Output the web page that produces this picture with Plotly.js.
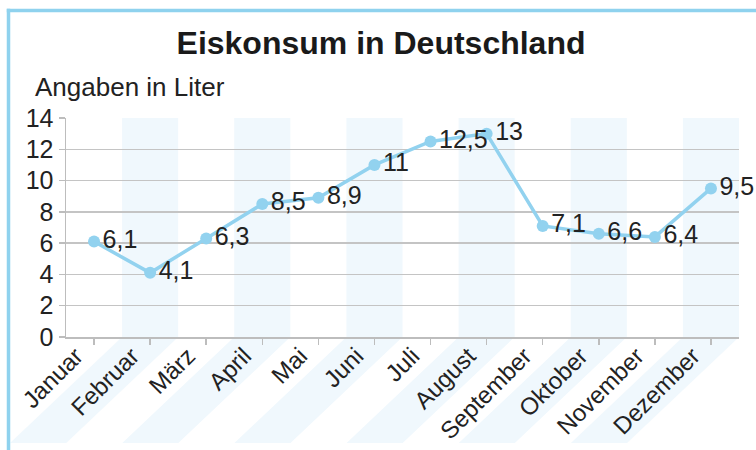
<!DOCTYPE html>
<html>
<head>
<meta charset="utf-8">
<script src="https://cdn.plot.ly/plotly-3.0.1.min.js"></script>
<style>html,body{margin:0;padding:0;background:#fff;}#chart{width:756px;height:450px;}</style>
</head>
<body>
<div id="chart"></div>
<script>
const months = ["Januar","Februar","März","April","Mai","Juni","Juli","August","September","Oktober","November","Dezember"];
const consumption = [6.1, 4.1, 6.3, 8.5, 8.9, 11, 12.5, 13, 7.1, 6.6, 6.4, 9.5];
const yTicks = [0, 2, 4, 6, 8, 10, 12, 14];

const W = 756, H = 450;
const L = 66, R = 739, T = 118, B = 337;
const pw = R - L, ph = B - T;
const px = p => (p - L) / pw;
const py = p => (B - p) / ph;

const idx = months.map((m, i) => i);
const n = months.length;
const lineColor = '#92d2ef';
const bandColor = '#f0f8fd';

const shapes = [];
const dx = 112 / pw, dy = 106 / ph;
idx.filter(i => i % 2 === 1).forEach(i => {
  const x0 = i / n, x1 = (i + 1) / n;
  shapes.push({
    type: 'path', xref: 'paper', yref: 'paper', layer: 'below',
    path: `M ${x0},1 L ${x1},1 L ${x1},0 L ${x1 - dx},${-dy} L ${x0 - dx},${-dy} L ${x0},0 Z`,
    fillcolor: bandColor, line: {width: 0}
  });
});
// frame lines (left and top)
shapes.push({type: 'line', xref: 'paper', yref: 'paper', layer: 'above',
  x0: px(8.5), x1: px(8.5), y0: py(8.8), y1: py(452), line: {color: '#8fd2ee', width: 3.5}});
shapes.push({type: 'line', xref: 'paper', yref: 'paper', layer: 'above',
  x0: px(6.8), x1: px(758), y0: py(10.4), y1: py(10.4), line: {color: '#8fd2ee', width: 3.5}});

const trace = {
  x: idx, y: consumption, type: 'scatter', mode: 'lines+markers+text',
  line: {color: lineColor, width: 3.5},
  marker: {color: lineColor, size: 12},
  text: consumption.map(v => String(v).replace('.', ',')),
  textposition: 'middle right',
  textfont: {family: 'Liberation Sans, Arial, sans-serif', size: 25, color: '#222'},
  cliponaxis: false, hoverinfo: 'none'
};

const layout = {
  width: W, height: H,
  margin: {l: L, r: W - R, t: T, b: H - B, pad: 0},
  paper_bgcolor: '#fff', plot_bgcolor: 'rgba(0,0,0,0)',
  font: {family: 'Liberation Sans, Arial, sans-serif', color: '#222'},
  showlegend: false,
  title: {text: '<b>Eiskonsum in Deutschland</b>', x: 0.504, xanchor: 'center', y: 1 - 43 / H, yanchor: 'middle',
    font: {family: 'Liberation Sans, Arial, sans-serif', size: 32, color: '#1a1a1a'}},
  xaxis: {
    type: 'linear', range: [-0.5, n - 0.5], tickmode: 'array', tickvals: idx, ticktext: months,
    tickangle: -45, ticks: 'outside', ticklen: 6, tickwidth: 1.5, tickcolor: '#bdbdbd',
    ticklabelshift: -18, ticklabelstandoff: -12,
    showgrid: false, zeroline: false, showline: true, linecolor: '#bdbdbd', linewidth: 1.5,
    tickfont: {size: 24, color: '#222'}, fixedrange: true
  },
  yaxis: {
    range: [0, 14], tickmode: 'array', tickvals: yTicks, ticktext: yTicks.map(String),
    ticks: 'outside', ticklen: 6, tickwidth: 1.5, tickcolor: '#bdbdbd',
    showgrid: true, gridcolor: '#c4c4c4', gridwidth: 1.5,
    zeroline: false, showline: true, linecolor: '#bdbdbd', linewidth: 1.5,
    tickfont: {size: 25, color: '#222'}, fixedrange: true
  },
  annotations: [{
    text: 'Angaben in Liter', xref: 'paper', yref: 'paper', x: px(33), y: py(87),
    xanchor: 'left', yanchor: 'middle', showarrow: false,
    font: {size: 26, color: '#222'}
  }],
  shapes: shapes
};

Plotly.newPlot('chart', [trace], layout, {displayModeBar: false, staticPlot: true});
</script>
</body>
</html>
